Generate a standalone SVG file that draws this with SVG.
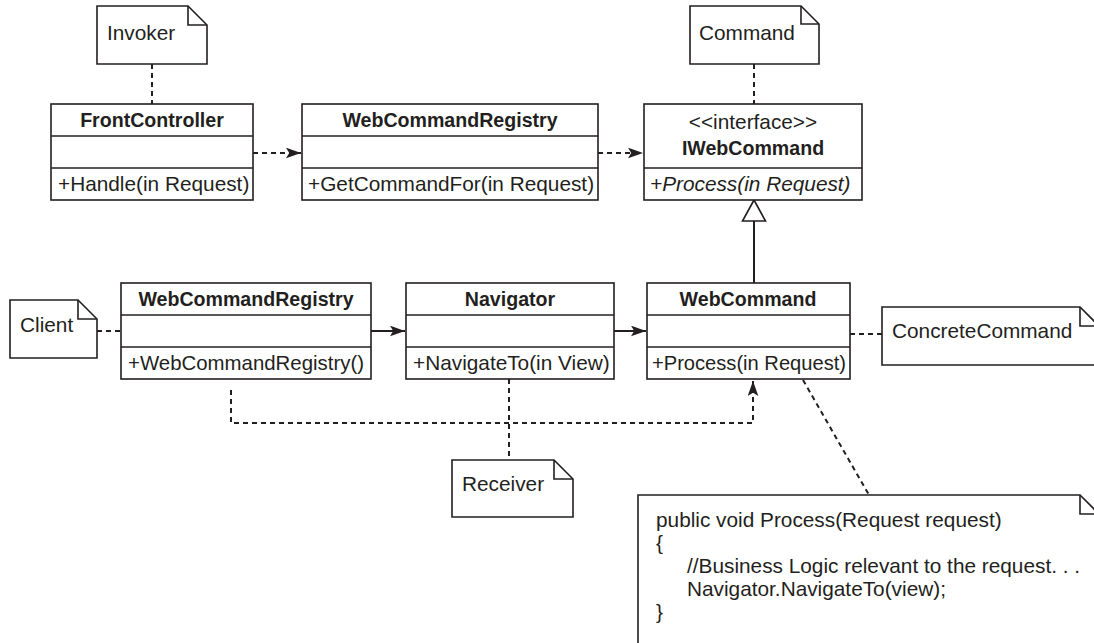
<svg xmlns="http://www.w3.org/2000/svg" width="1094" height="643" viewBox="0 0 1094 643">
<defs>
<style>
.box{fill:#fff;stroke:#231f20;stroke-width:1.6}
.div{stroke:#231f20;stroke-width:1.6}
.note{fill:#fff;stroke:#231f20;stroke-width:1.6;stroke-linejoin:miter}
.fold{fill:none;stroke:#231f20;stroke-width:1.6}
.dash{fill:none;stroke:#231f20;stroke-width:2;stroke-dasharray:5,4}
.solid{fill:none;stroke:#231f20;stroke-width:2}
text{font-family:"Liberation Sans",Arial,sans-serif;font-size:20.8px;fill:#231f20}
.b{font-weight:bold;text-anchor:middle;font-size:19.6px}
.c{text-anchor:middle}
.i{font-style:italic}
</style>
<marker id="arr" viewBox="0 0 14 10" markerWidth="15" markerHeight="11" refX="14" refY="5" orient="auto" markerUnits="userSpaceOnUse">
<path d="M0,0 L14,5 L0,10 L3,5 Z" fill="#231f20" stroke="none"/>
</marker>
</defs>
<rect width="1094" height="643" fill="#fff"/>

<g id="connectors">
<line class="dash" x1="152" y1="64" x2="152" y2="104"/>
<line class="dash" x1="253" y1="153" x2="301" y2="153" marker-end="url(#arr)"/>
<line class="dash" x1="598" y1="153" x2="643" y2="153" marker-end="url(#arr)"/>
<line class="dash" x1="754" y1="64" x2="754" y2="104"/>
<line class="solid" x1="754" y1="221" x2="754" y2="283"/>
<polygon points="754,200 742.5,221 765.5,221" fill="#fff" stroke="#231f20" stroke-width="1.6"/>
<line class="dash" x1="97" y1="331" x2="121" y2="331"/>
<line class="solid" x1="371" y1="331" x2="405" y2="331" marker-end="url(#arr)"/>
<line class="solid" x1="614" y1="331" x2="646" y2="331" marker-end="url(#arr)"/>
<line class="dash" x1="850" y1="334" x2="882" y2="334"/>
<path class="dash" d="M231,390 V423 H753 V381" marker-end="url(#arr)"/>
<line class="dash" x1="509" y1="379" x2="509" y2="460"/>
<line class="dash" x1="803" y1="380" x2="869" y2="495"/>
</g>

<g id="note-invoker">
<path class="note" d="M97,6 H188 L207,25 V64 H97 Z"/>
<path class="fold" d="M188,6 V25 H207"/>
<text x="107" y="40">Invoker</text>
</g>

<g id="note-command">
<path class="note" d="M690,6 H801 L819,24 V64 H690 Z"/>
<path class="fold" d="M801,6 V24 H819"/>
<text x="699" y="40">Command</text>
</g>

<g id="FrontController">
<rect class="box" x="51" y="104" width="202" height="96"/>
<line class="div" x1="51" y1="136" x2="253" y2="136"/>
<line class="div" x1="51" y1="168" x2="253" y2="168"/>
<text class="b" x="152" y="127">FrontController</text>
<text x="58" y="191">+Handle(in Request)</text>
</g>

<g id="WebCommandRegistryTop">
<rect class="box" x="302" y="104" width="296" height="96"/>
<line class="div" x1="302" y1="136" x2="598" y2="136"/>
<line class="div" x1="302" y1="168" x2="598" y2="168"/>
<text class="b" x="450" y="127">WebCommandRegistry</text>
<text x="308" y="191">+GetCommandFor(in Request)</text>
</g>

<g id="IWebCommand">
<rect class="box" x="644" y="104" width="218" height="96"/>
<line class="div" x1="644" y1="168" x2="862" y2="168"/>
<text class="c" x="753" y="129">&lt;&lt;interface&gt;&gt;</text>
<text class="b" x="753" y="155">IWebCommand</text>
<text class="i" x="650" y="191">+Process(in Request)</text>
</g>

<g id="note-client">
<path class="note" d="M10,300 H78 L97,319 V358 H10 Z"/>
<path class="fold" d="M78,300 V319 H97"/>
<text x="20" y="332">Client</text>
</g>

<g id="WebCommandRegistryBottom">
<rect class="box" x="121" y="283" width="250" height="96"/>
<line class="div" x1="121" y1="315" x2="371" y2="315"/>
<line class="div" x1="121" y1="347" x2="371" y2="347"/>
<text class="b" x="246" y="306">WebCommandRegistry</text>
<text x="128" y="370" textLength="236" lengthAdjust="spacingAndGlyphs">+WebCommandRegistry()</text>
</g>

<g id="Navigator">
<rect class="box" x="406" y="283" width="208" height="96"/>
<line class="div" x1="406" y1="315" x2="614" y2="315"/>
<line class="div" x1="406" y1="347" x2="614" y2="347"/>
<text class="b" x="510" y="306">Navigator</text>
<text x="413" y="370">+NavigateTo(in View)</text>
</g>

<g id="WebCommand">
<rect class="box" x="647" y="283" width="203" height="96"/>
<line class="div" x1="647" y1="315" x2="850" y2="315"/>
<line class="div" x1="647" y1="347" x2="850" y2="347"/>
<text class="b" x="748" y="306">WebCommand</text>
<text x="652" y="370" textLength="194" lengthAdjust="spacingAndGlyphs">+Process(in Request)</text>
</g>

<g id="note-concrete">
<path class="note" d="M882,307 H1080 L1099,326 V365 H882 Z"/>
<path class="fold" d="M1080,307 V326 H1099"/>
<text x="892" y="338">ConcreteCommand</text>
</g>

<g id="note-receiver">
<path class="note" d="M452,460 H554 L573,479 V517 H452 Z"/>
<path class="fold" d="M554,460 V479 H573"/>
<text x="462" y="491">Receiver</text>
</g>

<g id="note-code">
<path class="note" d="M638,495 H1080 L1099,514 V660 H638 Z"/>
<path class="fold" d="M1080,495 V514 H1099"/>
<text x="656" y="527">public void Process(Request request)</text>
<text x="656" y="550">{</text>
<text x="687" y="573">//Business Logic relevant to the request. . .</text>
<text x="687" y="596">Navigator.NavigateTo(view);</text>
<text x="656" y="619">}</text>
</g>
</svg>
